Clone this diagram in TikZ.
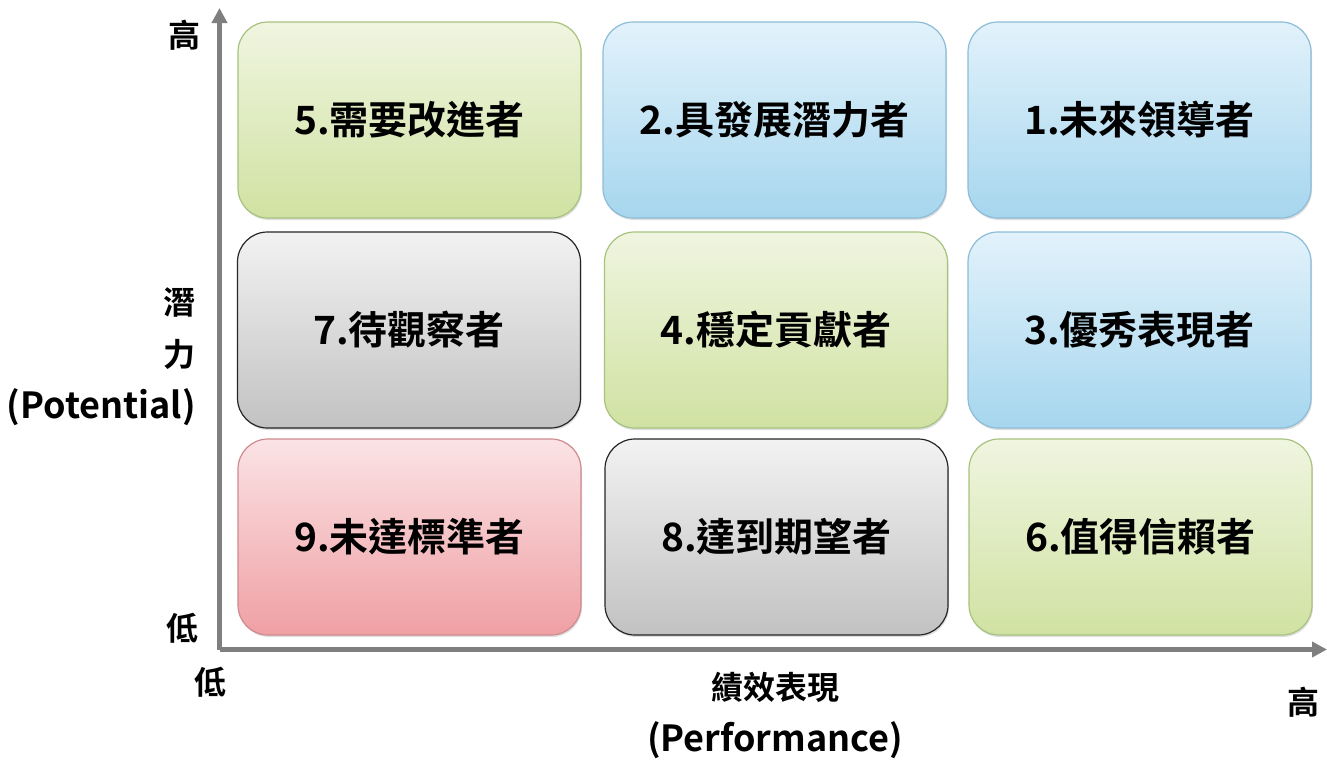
\documentclass[tikz,border=0pt]{standalone}
\usepackage{fontspec}
\setmainfont{Noto Sans CJK TC}
\newfontfamily\cjkb{Noto Sans CJK TC}[BoldFont={Noto Sans CJK TC Bold}]
\usetikzlibrary{arrows.meta,shadows}
\definecolor{bluetop}{HTML}{E2F2FB}
\definecolor{bluebot}{HTML}{A6D6EE}
\definecolor{blueline}{HTML}{8CBCD6}
\definecolor{greentop}{HTML}{F0F5E0}
\definecolor{greenbot}{HTML}{D0E2A2}
\definecolor{greenline}{HTML}{A8C27E}
\definecolor{graytop}{HTML}{F2F2F2}
\definecolor{graybot}{HTML}{C2C2C2}
\definecolor{redtop}{HTML}{FBE3E5}
\definecolor{redbot}{HTML}{EFA0A4}
\definecolor{redline}{HTML}{CF8A8E}
\definecolor{axisgray}{HTML}{7F7F7F}
\tikzset{
  cell/.style={rounded corners=30pt, minimum width=343pt, minimum height=196pt,
    line width=1.2pt, font=\cjkb\bfseries\fontsize{39}{46}\selectfont,
    drop shadow={shadow xshift=1pt, shadow yshift=-2pt, opacity=0.25}},
  bluecell/.style={cell, draw=blueline, top color=bluetop, bottom color=bluebot},
  greencell/.style={cell, draw=greenline, top color=greentop, bottom color=greenbot},
  graycell/.style={cell, draw=black!85, top color=graytop, bottom color=graybot},
  redcell/.style={cell, draw=redline, top color=redtop, bottom color=redbot},
  axislabel/.style={font=\cjkb\bfseries\fontsize{32}{52}\selectfont, inner sep=0pt},
  axisline/.style={draw=axisgray, line width=5pt, -{Triangle[length=15pt,width=15pt]}}
}
\newcommand{\latinbig}{\fontsize{36}{52}\selectfont}
\begin{document}
\begin{tikzpicture}[x=1pt,y=-1pt]
\useasboundingbox (0,0) rectangle (1327,761);
\fill[white] (0,0) rectangle (1327,761);
% row 1
\node[greencell] (c5) at (409.5,120) {5.需要改進者};
\node[bluecell]  (c2) at (774.5,120) {2.具發展潛力者};
\node[bluecell]  (c1) at (1139.5,120) {1.未來領導者};
% row 2
\node[graycell]  (c7) at (409,330) {7.待觀察者};
\node[greencell] (c4) at (776,330) {4.穩定貢獻者};
\node[bluecell]  (c3) at (1139.5,330) {3.優秀表現者};
% row 3
\node[redcell]   (c9) at (409.5,537) {9.未達標準者};
\node[graycell]  (c8) at (776.5,537) {8.達到期望者};
\node[greencell] (c6) at (1140.5,537) {6.值得信賴者};
% axes
\coordinate (o) at (219.5,649.5);
\coordinate (ytop) at (219.5,8);
\coordinate (xend) at (1327,649.5);
\draw[axisline] (o) -- (ytop);
\draw[axisline] (o) -- (xend);
% labels
\node[axislabel] (yhigh) at (184,35) {高};
\node[axislabel] (ylow) at (182,628) {低};
\node[axislabel] (xlow) at (210,682) {低};
\node[axislabel] (xhigh) at (1303,702) {高};
\node[axislabel, align=right, anchor=east] (ylab) at (196,357) {潛\\力\\{\latinbig(Potential)}};
\node[axislabel, align=center] (xlab) at (775,715) {績效表現\\{\latinbig(Performance)}};
\end{tikzpicture}
\end{document}
